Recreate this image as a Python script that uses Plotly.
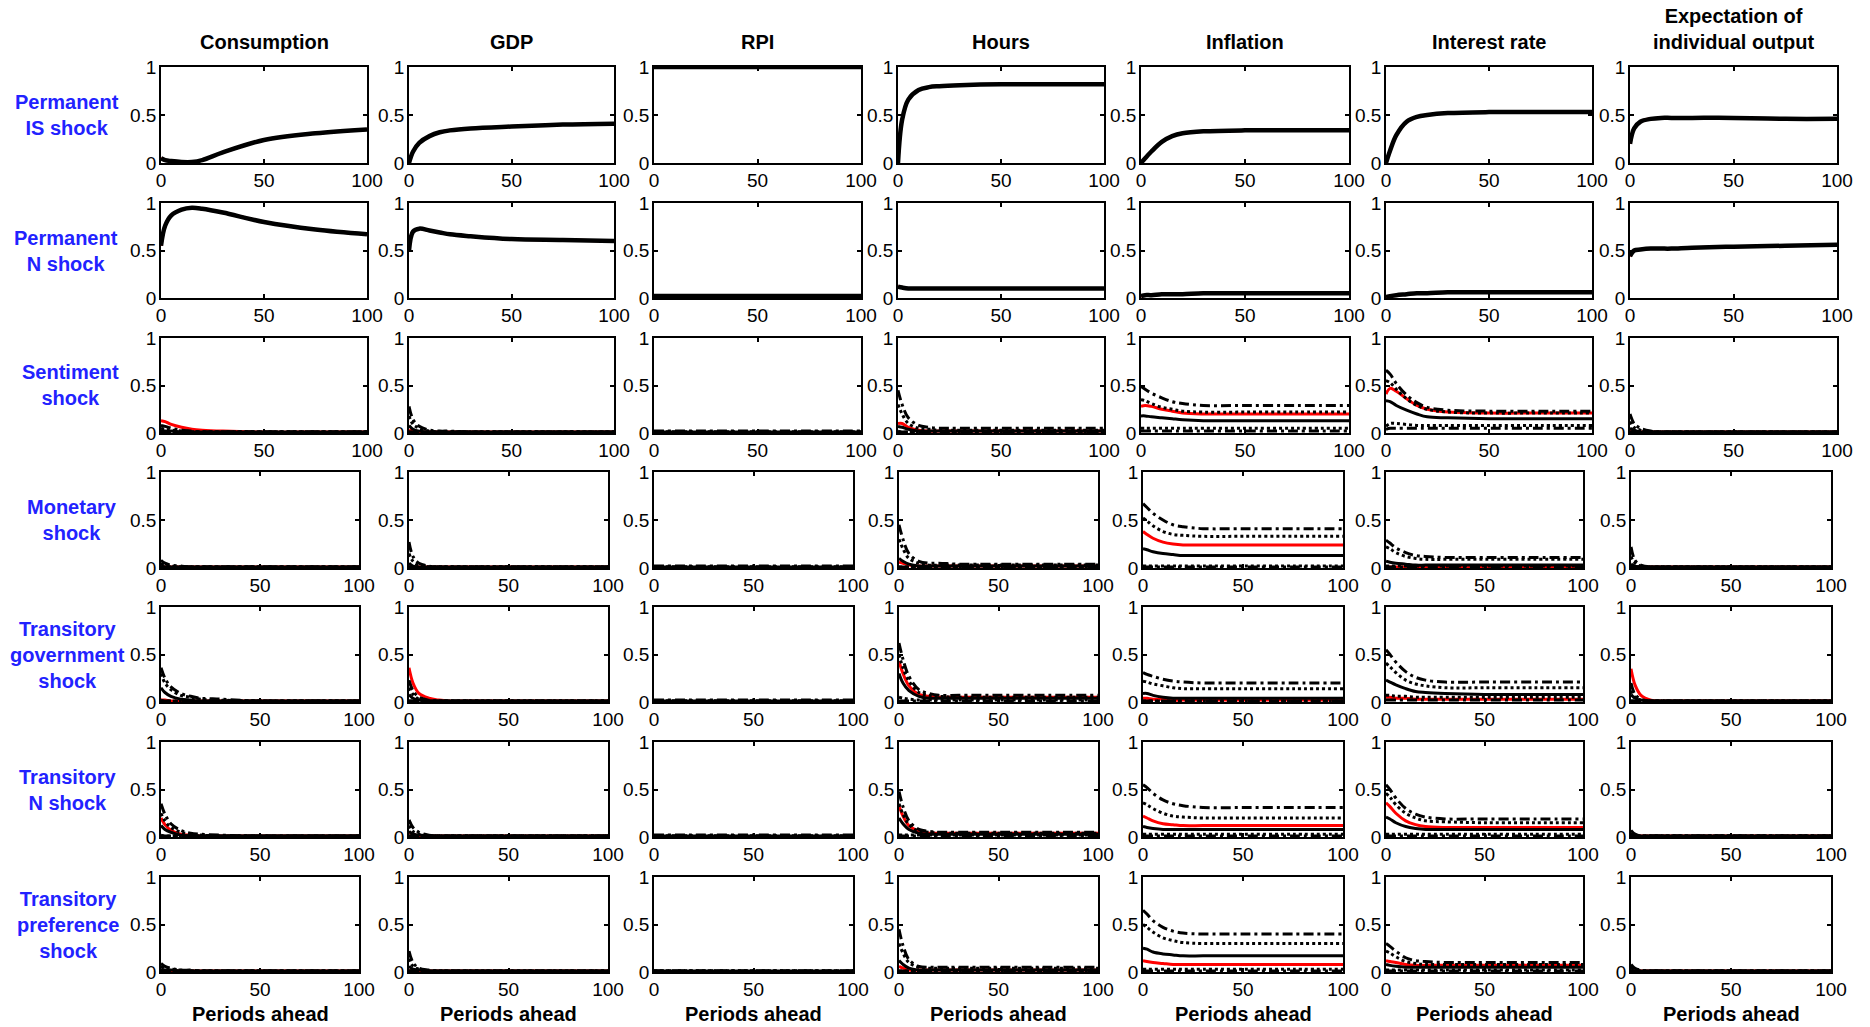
import plotly.graph_objects as go

# ---------------- data ----------------
H = [0, 2, 5, 10, 15, 20, 30, 50, 75, 100]          # periods ahead
VARIABLES = ["Consumption", "GDP", "RPI", "Hours", "Inflation", "Interest rate",
             "Expectation of<br>individual output"]
SHOCKS = ["Permanent<br>IS shock", "Permanent<br>N shock", "Sentiment<br>shock",
          "Monetary<br>shock", "Transitory<br>government<br>shock",
          "Transitory<br>N shock", "Transitory<br>preference<br>shock"]
X_TICKS = [0, 50, 100]
Y_TICKS = [0, 0.5, 1]

# Row 1: permanent IS shock (posterior bands collapse on the median)
PIS_med = [
    [0.05, 0.03, 0.02, 0.01, 0.01, 0.03, 0.11, 0.24, 0.31, 0.35],
    [0.00, 0.12, 0.21, 0.28, 0.32, 0.34, 0.36, 0.38, 0.40, 0.41],
    [1.00, 1.00, 1.00, 1.00, 1.00, 1.00, 1.00, 1.00, 1.00, 1.00],
    [0.00, 0.45, 0.66, 0.76, 0.79, 0.80, 0.81, 0.82, 0.82, 0.82],
    [0.00, 0.05, 0.12, 0.22, 0.28, 0.31, 0.33, 0.34, 0.34, 0.34],
    [0.00, 0.13, 0.29, 0.43, 0.48, 0.50, 0.52, 0.53, 0.53, 0.53],
    [0.20, 0.36, 0.43, 0.46, 0.47, 0.47, 0.47, 0.47, 0.46, 0.46],
]
PIS_black = PIS_med

# Row 2: permanent N shock
PN_med = [
    [0.55, 0.76, 0.87, 0.93, 0.95, 0.94, 0.90, 0.80, 0.72, 0.67],
    [0.50, 0.70, 0.73, 0.71, 0.69, 0.67, 0.65, 0.62, 0.61, 0.60],
    [0.005, 0.005, 0.005, 0.005, 0.005, 0.005, 0.005, 0.005, 0.005, 0.005],
    [0.12, 0.11, 0.10, 0.10, 0.10, 0.10, 0.10, 0.10, 0.10, 0.10],
    [0.02, 0.03, 0.03, 0.04, 0.04, 0.04, 0.05, 0.05, 0.05, 0.05],
    [0.01, 0.02, 0.03, 0.04, 0.05, 0.05, 0.06, 0.06, 0.06, 0.06],
    [0.44, 0.50, 0.51, 0.52, 0.52, 0.52, 0.53, 0.54, 0.55, 0.56],
]
PN_black = [
    [0.55, 0.76, 0.87, 0.93, 0.95, 0.94, 0.90, 0.80, 0.72, 0.67],
    [0.50, 0.70, 0.73, 0.71, 0.69, 0.67, 0.65, 0.62, 0.61, 0.60],
    [0.02, 0.02, 0.02, 0.02, 0.02, 0.02, 0.02, 0.02, 0.02, 0.02],
    [0.12, 0.11, 0.10, 0.10, 0.10, 0.10, 0.10, 0.10, 0.10, 0.10],
    [0.02, 0.03, 0.03, 0.04, 0.04, 0.04, 0.05, 0.05, 0.05, 0.05],
    [0.01, 0.02, 0.03, 0.04, 0.05, 0.05, 0.06, 0.06, 0.06, 0.06],
    [0.44, 0.50, 0.51, 0.52, 0.52, 0.52, 0.53, 0.54, 0.55, 0.56],
]

# Row 3: sentiment shock
SENT_u2 = [
    [0.08, 0.07, 0.05, 0.03, 0.02, 0.01, 0.01, 0.01, 0.01, 0.01],
    [0.28, 0.14, 0.07, 0.03, 0.02, 0.02, 0.01, 0.01, 0.01, 0.01],
    [0.02, 0.02, 0.02, 0.02, 0.02, 0.02, 0.02, 0.02, 0.02, 0.02],
    [0.45, 0.30, 0.16, 0.08, 0.06, 0.05, 0.05, 0.05, 0.05, 0.05],
    [0.49, 0.46, 0.42, 0.37, 0.33, 0.31, 0.29, 0.29, 0.29, 0.29],
    [0.66, 0.62, 0.52, 0.40, 0.32, 0.27, 0.24, 0.23, 0.23, 0.23],
    [0.20, 0.10, 0.05, 0.02, 0.01, 0.01, 0.01, 0.01, 0.01, 0.01],
]
SENT_u1 = [
    [0.05, 0.04, 0.03, 0.02, 0.01, 0.01, 0.01, 0.01, 0.01, 0.01],
    [0.18, 0.09, 0.05, 0.02, 0.01, 0.01, 0.01, 0.01, 0.01, 0.01],
    [0.01, 0.01, 0.01, 0.01, 0.01, 0.01, 0.01, 0.01, 0.01, 0.01],
    [0.30, 0.20, 0.10, 0.05, 0.04, 0.03, 0.03, 0.03, 0.03, 0.03],
    [0.35, 0.34, 0.31, 0.27, 0.25, 0.23, 0.22, 0.22, 0.22, 0.22],
    [0.55, 0.53, 0.46, 0.36, 0.29, 0.25, 0.22, 0.21, 0.21, 0.21],
    [0.12, 0.06, 0.03, 0.01, 0.01, 0.01, 0.01, 0.01, 0.01, 0.01],
]
SENT_med = [
    [0.13, 0.12, 0.09, 0.06, 0.04, 0.03, 0.02, 0.01, 0.01, 0.01],
    [0.03, 0.02, 0.01, 0.01, 0.01, 0.01, 0.01, 0.01, 0.01, 0.01],
    [0.005, 0.005, 0.005, 0.005, 0.005, 0.005, 0.005, 0.005, 0.005, 0.005],
    [0.10, 0.10, 0.06, 0.03, 0.02, 0.02, 0.02, 0.02, 0.02, 0.02],
    [0.28, 0.29, 0.28, 0.25, 0.23, 0.21, 0.20, 0.20, 0.20, 0.20],
    [0.41, 0.47, 0.44, 0.36, 0.29, 0.25, 0.22, 0.21, 0.21, 0.21],
    [0.02, 0.01, 0.01, 0.01, 0.01, 0.01, 0.01, 0.01, 0.01, 0.01],
]
SENT_solid = [
    [0.03, 0.02, 0.02, 0.01, 0.01, 0.01, 0.01, 0.01, 0.01, 0.01],
    [0.08, 0.04, 0.02, 0.01, 0.01, 0.01, 0.01, 0.01, 0.01, 0.01],
    [0.01, 0.01, 0.01, 0.01, 0.01, 0.01, 0.01, 0.01, 0.01, 0.01],
    [0.07, 0.06, 0.04, 0.02, 0.02, 0.02, 0.02, 0.02, 0.02, 0.02],
    [0.18, 0.18, 0.17, 0.16, 0.15, 0.14, 0.13, 0.13, 0.13, 0.13],
    [0.34, 0.33, 0.29, 0.24, 0.20, 0.17, 0.16, 0.15, 0.15, 0.15],
    [0.05, 0.03, 0.01, 0.01, 0.01, 0.01, 0.01, 0.01, 0.01, 0.01],
]
SENT_l1 = [
    [0.01, 0.01, 0.01, 0.01, 0.01, 0.01, 0.01, 0.01, 0.01, 0.01],
    [0.01, 0.01, 0.01, 0.01, 0.01, 0.01, 0.01, 0.01, 0.01, 0.01],
    [0.01, 0.01, 0.01, 0.01, 0.01, 0.01, 0.01, 0.01, 0.01, 0.01],
    [0.02, 0.01, 0.01, 0.01, 0.01, 0.01, 0.01, 0.01, 0.01, 0.01],
    [0.05, 0.05, 0.05, 0.05, 0.05, 0.05, 0.05, 0.05, 0.05, 0.05],
    [0.07, 0.10, 0.10, 0.09, 0.08, 0.08, 0.08, 0.08, 0.08, 0.08],
    [0.01, 0.01, 0.01, 0.01, 0.01, 0.01, 0.01, 0.01, 0.01, 0.01],
]
SENT_l2 = [
    [0.01, 0.01, 0.01, 0.01, 0.01, 0.01, 0.01, 0.01, 0.01, 0.01],
    [0.01, 0.01, 0.01, 0.01, 0.01, 0.01, 0.01, 0.01, 0.01, 0.01],
    [0.01, 0.01, 0.01, 0.01, 0.01, 0.01, 0.01, 0.01, 0.01, 0.01],
    [0.01, 0.01, 0.01, 0.01, 0.01, 0.01, 0.01, 0.01, 0.01, 0.01],
    [0.02, 0.02, 0.02, 0.02, 0.02, 0.02, 0.02, 0.02, 0.02, 0.02],
    [0.04, 0.05, 0.05, 0.05, 0.05, 0.05, 0.05, 0.05, 0.05, 0.05],
    [0.01, 0.01, 0.01, 0.01, 0.01, 0.01, 0.01, 0.01, 0.01, 0.01],
]

# Row 4: monetary shock
MON_u2 = [
    [0.08, 0.05, 0.03, 0.02, 0.01, 0.01, 0.01, 0.01, 0.01, 0.01],
    [0.27, 0.12, 0.05, 0.02, 0.01, 0.01, 0.01, 0.01, 0.01, 0.01],
    [0.02, 0.02, 0.02, 0.02, 0.02, 0.02, 0.02, 0.02, 0.02, 0.02],
    [0.45, 0.30, 0.15, 0.07, 0.05, 0.05, 0.04, 0.04, 0.04, 0.04],
    [0.67, 0.63, 0.57, 0.50, 0.45, 0.43, 0.41, 0.41, 0.41, 0.41],
    [0.29, 0.26, 0.21, 0.16, 0.13, 0.12, 0.11, 0.11, 0.11, 0.11],
    [0.22, 0.08, 0.03, 0.01, 0.01, 0.01, 0.01, 0.01, 0.01, 0.01],
]
MON_u1 = [
    [0.05, 0.03, 0.02, 0.01, 0.01, 0.01, 0.01, 0.01, 0.01, 0.01],
    [0.15, 0.07, 0.03, 0.01, 0.01, 0.01, 0.01, 0.01, 0.01, 0.01],
    [0.01, 0.01, 0.01, 0.01, 0.01, 0.01, 0.01, 0.01, 0.01, 0.01],
    [0.30, 0.20, 0.10, 0.05, 0.03, 0.03, 0.03, 0.03, 0.03, 0.03],
    [0.52, 0.49, 0.44, 0.38, 0.35, 0.34, 0.33, 0.33, 0.33, 0.33],
    [0.22, 0.20, 0.16, 0.12, 0.10, 0.09, 0.09, 0.09, 0.09, 0.09],
    [0.12, 0.05, 0.02, 0.01, 0.01, 0.01, 0.01, 0.01, 0.01, 0.01],
]
MON_med = [
    [0.01, 0.01, 0.01, 0.01, 0.01, 0.01, 0.01, 0.01, 0.01, 0.01],
    [0.01, 0.01, 0.01, 0.01, 0.01, 0.01, 0.01, 0.01, 0.01, 0.01],
    [0.005, 0.005, 0.005, 0.005, 0.005, 0.005, 0.005, 0.005, 0.005, 0.005],
    [0.06, 0.05, 0.03, 0.02, 0.02, 0.02, 0.02, 0.02, 0.02, 0.02],
    [0.38, 0.35, 0.31, 0.27, 0.25, 0.24, 0.24, 0.24, 0.24, 0.24],
    [0.01, 0.01, 0.01, 0.01, 0.01, 0.01, 0.01, 0.01, 0.01, 0.01],
    [0.01, 0.01, 0.01, 0.01, 0.01, 0.01, 0.01, 0.01, 0.01, 0.01],
]
MON_solid = [
    [0.02, 0.01, 0.01, 0.01, 0.01, 0.01, 0.01, 0.01, 0.01, 0.01],
    [0.05, 0.02, 0.01, 0.01, 0.01, 0.01, 0.01, 0.01, 0.01, 0.01],
    [0.01, 0.01, 0.01, 0.01, 0.01, 0.01, 0.01, 0.01, 0.01, 0.01],
    [0.10, 0.07, 0.04, 0.02, 0.02, 0.02, 0.02, 0.02, 0.02, 0.02],
    [0.20, 0.19, 0.17, 0.15, 0.14, 0.13, 0.13, 0.13, 0.13, 0.13],
    [0.07, 0.06, 0.05, 0.04, 0.03, 0.03, 0.03, 0.03, 0.03, 0.03],
    [0.04, 0.02, 0.01, 0.01, 0.01, 0.01, 0.01, 0.01, 0.01, 0.01],
]
MON_l1 = [
    [0.01, 0.01, 0.01, 0.01, 0.01, 0.01, 0.01, 0.01, 0.01, 0.01],
    [0.01, 0.01, 0.01, 0.01, 0.01, 0.01, 0.01, 0.01, 0.01, 0.01],
    [0.01, 0.01, 0.01, 0.01, 0.01, 0.01, 0.01, 0.01, 0.01, 0.01],
    [0.01, 0.01, 0.01, 0.01, 0.01, 0.01, 0.01, 0.01, 0.01, 0.01],
    [0.02, 0.02, 0.02, 0.02, 0.02, 0.02, 0.02, 0.02, 0.02, 0.02],
    [0.02, 0.02, 0.02, 0.02, 0.02, 0.02, 0.02, 0.02, 0.02, 0.02],
    [0.01, 0.01, 0.01, 0.01, 0.01, 0.01, 0.01, 0.01, 0.01, 0.01],
]
MON_l2 = [
    [0.01, 0.01, 0.01, 0.01, 0.01, 0.01, 0.01, 0.01, 0.01, 0.01],
    [0.01, 0.01, 0.01, 0.01, 0.01, 0.01, 0.01, 0.01, 0.01, 0.01],
    [0.01, 0.01, 0.01, 0.01, 0.01, 0.01, 0.01, 0.01, 0.01, 0.01],
    [0.01, 0.01, 0.01, 0.01, 0.01, 0.01, 0.01, 0.01, 0.01, 0.01],
    [0.01, 0.01, 0.01, 0.01, 0.01, 0.01, 0.01, 0.01, 0.01, 0.01],
    [0.01, 0.01, 0.01, 0.01, 0.01, 0.01, 0.01, 0.01, 0.01, 0.01],
    [0.01, 0.01, 0.01, 0.01, 0.01, 0.01, 0.01, 0.01, 0.01, 0.01],
]

# Row 5: transitory government shock
TG_u2 = [
    [0.36, 0.25, 0.16, 0.09, 0.06, 0.04, 0.03, 0.01, 0.01, 0.01],
    [0.23, 0.12, 0.05, 0.02, 0.01, 0.01, 0.01, 0.01, 0.01, 0.01],
    [0.02, 0.02, 0.02, 0.02, 0.02, 0.02, 0.02, 0.02, 0.02, 0.02],
    [0.62, 0.45, 0.27, 0.13, 0.09, 0.07, 0.07, 0.07, 0.07, 0.07],
    [0.31, 0.29, 0.27, 0.24, 0.22, 0.21, 0.20, 0.20, 0.20, 0.20],
    [0.55, 0.50, 0.42, 0.32, 0.26, 0.23, 0.21, 0.21, 0.21, 0.21],
    [0.20, 0.08, 0.03, 0.01, 0.01, 0.01, 0.01, 0.01, 0.01, 0.01],
]
TG_u1 = [
    [0.30, 0.20, 0.13, 0.07, 0.05, 0.03, 0.02, 0.01, 0.01, 0.01],
    [0.15, 0.08, 0.03, 0.01, 0.01, 0.01, 0.01, 0.01, 0.01, 0.01],
    [0.01, 0.01, 0.01, 0.01, 0.01, 0.01, 0.01, 0.01, 0.01, 0.01],
    [0.50, 0.36, 0.22, 0.10, 0.07, 0.06, 0.05, 0.05, 0.05, 0.05],
    [0.22, 0.21, 0.19, 0.17, 0.15, 0.14, 0.14, 0.14, 0.14, 0.14],
    [0.41, 0.37, 0.31, 0.23, 0.19, 0.17, 0.15, 0.15, 0.15, 0.15],
    [0.12, 0.05, 0.02, 0.01, 0.01, 0.01, 0.01, 0.01, 0.01, 0.01],
]
TG_med = [
    [0.02, 0.02, 0.01, 0.01, 0.01, 0.01, 0.01, 0.01, 0.01, 0.01],
    [0.36, 0.20, 0.09, 0.04, 0.02, 0.01, 0.01, 0.01, 0.01, 0.01],
    [0.005, 0.005, 0.005, 0.005, 0.005, 0.005, 0.005, 0.005, 0.005, 0.005],
    [0.43, 0.30, 0.17, 0.08, 0.06, 0.05, 0.05, 0.05, 0.05, 0.05],
    [0.04, 0.04, 0.03, 0.03, 0.02, 0.02, 0.02, 0.02, 0.02, 0.02],
    [0.05, 0.05, 0.04, 0.04, 0.03, 0.03, 0.03, 0.03, 0.03, 0.03],
    [0.35, 0.18, 0.07, 0.02, 0.01, 0.01, 0.01, 0.01, 0.01, 0.01],
]
TG_solid = [
    [0.15, 0.10, 0.06, 0.03, 0.02, 0.01, 0.01, 0.01, 0.01, 0.01],
    [0.08, 0.04, 0.02, 0.01, 0.01, 0.01, 0.01, 0.01, 0.01, 0.01],
    [0.01, 0.01, 0.01, 0.01, 0.01, 0.01, 0.01, 0.01, 0.01, 0.01],
    [0.30, 0.20, 0.12, 0.06, 0.04, 0.04, 0.04, 0.04, 0.04, 0.04],
    [0.09, 0.09, 0.07, 0.05, 0.04, 0.04, 0.04, 0.04, 0.04, 0.04],
    [0.23, 0.21, 0.18, 0.14, 0.11, 0.10, 0.09, 0.08, 0.08, 0.08],
    [0.08, 0.04, 0.02, 0.01, 0.01, 0.01, 0.01, 0.01, 0.01, 0.01],
]
TG_l1 = [
    [0.02, 0.01, 0.01, 0.01, 0.01, 0.01, 0.01, 0.01, 0.01, 0.01],
    [0.01, 0.01, 0.01, 0.01, 0.01, 0.01, 0.01, 0.01, 0.01, 0.01],
    [0.01, 0.01, 0.01, 0.01, 0.01, 0.01, 0.01, 0.01, 0.01, 0.01],
    [0.05, 0.04, 0.03, 0.02, 0.02, 0.02, 0.02, 0.02, 0.02, 0.02],
    [0.01, 0.01, 0.01, 0.01, 0.01, 0.01, 0.01, 0.01, 0.01, 0.01],
    [0.07, 0.07, 0.06, 0.06, 0.05, 0.05, 0.05, 0.05, 0.05, 0.05],
    [0.01, 0.01, 0.01, 0.01, 0.01, 0.01, 0.01, 0.01, 0.01, 0.01],
]
TG_l2 = [
    [0.01, 0.01, 0.01, 0.01, 0.01, 0.01, 0.01, 0.01, 0.01, 0.01],
    [0.01, 0.01, 0.01, 0.01, 0.01, 0.01, 0.01, 0.01, 0.01, 0.01],
    [0.01, 0.01, 0.01, 0.01, 0.01, 0.01, 0.01, 0.01, 0.01, 0.01],
    [0.01, 0.01, 0.01, 0.01, 0.01, 0.01, 0.01, 0.01, 0.01, 0.01],
    [0.01, 0.01, 0.01, 0.01, 0.01, 0.01, 0.01, 0.01, 0.01, 0.01],
    [0.02, 0.02, 0.02, 0.02, 0.02, 0.02, 0.02, 0.02, 0.02, 0.02],
    [0.01, 0.01, 0.01, 0.01, 0.01, 0.01, 0.01, 0.01, 0.01, 0.01],
]

# Row 6: transitory N shock
TN_u2 = [
    [0.35, 0.24, 0.14, 0.07, 0.04, 0.03, 0.02, 0.01, 0.01, 0.01],
    [0.18, 0.10, 0.05, 0.02, 0.01, 0.01, 0.01, 0.01, 0.01, 0.01],
    [0.02, 0.02, 0.02, 0.02, 0.02, 0.02, 0.02, 0.02, 0.02, 0.02],
    [0.48, 0.32, 0.17, 0.08, 0.06, 0.05, 0.05, 0.05, 0.05, 0.05],
    [0.55, 0.52, 0.46, 0.39, 0.35, 0.33, 0.31, 0.31, 0.31, 0.31],
    [0.55, 0.50, 0.41, 0.30, 0.24, 0.21, 0.19, 0.19, 0.19, 0.19],
    [0.07, 0.03, 0.01, 0.01, 0.01, 0.01, 0.01, 0.01, 0.01, 0.01],
]
TN_u1 = [
    [0.25, 0.17, 0.10, 0.05, 0.03, 0.02, 0.01, 0.01, 0.01, 0.01],
    [0.12, 0.06, 0.03, 0.01, 0.01, 0.01, 0.01, 0.01, 0.01, 0.01],
    [0.01, 0.01, 0.01, 0.01, 0.01, 0.01, 0.01, 0.01, 0.01, 0.01],
    [0.35, 0.24, 0.13, 0.06, 0.05, 0.04, 0.04, 0.04, 0.04, 0.04],
    [0.36, 0.34, 0.30, 0.25, 0.22, 0.21, 0.20, 0.20, 0.20, 0.20],
    [0.46, 0.42, 0.34, 0.25, 0.20, 0.17, 0.16, 0.15, 0.15, 0.15],
    [0.04, 0.02, 0.01, 0.01, 0.01, 0.01, 0.01, 0.01, 0.01, 0.01],
]
TN_med = [
    [0.20, 0.13, 0.07, 0.03, 0.02, 0.01, 0.01, 0.01, 0.01, 0.01],
    [0.05, 0.03, 0.01, 0.01, 0.01, 0.01, 0.01, 0.01, 0.01, 0.01],
    [0.005, 0.005, 0.005, 0.005, 0.005, 0.005, 0.005, 0.005, 0.005, 0.005],
    [0.33, 0.22, 0.12, 0.06, 0.04, 0.04, 0.04, 0.04, 0.04, 0.04],
    [0.22, 0.20, 0.17, 0.14, 0.13, 0.12, 0.12, 0.12, 0.12, 0.12],
    [0.36, 0.32, 0.25, 0.17, 0.13, 0.11, 0.10, 0.10, 0.10, 0.10],
    [0.01, 0.01, 0.01, 0.01, 0.01, 0.01, 0.01, 0.01, 0.01, 0.01],
]
TN_solid = [
    [0.12, 0.08, 0.05, 0.02, 0.01, 0.01, 0.01, 0.01, 0.01, 0.01],
    [0.06, 0.03, 0.02, 0.01, 0.01, 0.01, 0.01, 0.01, 0.01, 0.01],
    [0.01, 0.01, 0.01, 0.01, 0.01, 0.01, 0.01, 0.01, 0.01, 0.01],
    [0.20, 0.14, 0.08, 0.04, 0.03, 0.03, 0.03, 0.03, 0.03, 0.03],
    [0.11, 0.10, 0.09, 0.08, 0.08, 0.08, 0.08, 0.08, 0.08, 0.08],
    [0.21, 0.19, 0.15, 0.11, 0.09, 0.08, 0.08, 0.08, 0.08, 0.08],
    [0.02, 0.01, 0.01, 0.01, 0.01, 0.01, 0.01, 0.01, 0.01, 0.01],
]
TN_l1 = [
    [0.02, 0.01, 0.01, 0.01, 0.01, 0.01, 0.01, 0.01, 0.01, 0.01],
    [0.01, 0.01, 0.01, 0.01, 0.01, 0.01, 0.01, 0.01, 0.01, 0.01],
    [0.01, 0.01, 0.01, 0.01, 0.01, 0.01, 0.01, 0.01, 0.01, 0.01],
    [0.02, 0.02, 0.02, 0.02, 0.02, 0.02, 0.02, 0.02, 0.02, 0.02],
    [0.03, 0.03, 0.03, 0.03, 0.03, 0.03, 0.03, 0.03, 0.03, 0.03],
    [0.03, 0.03, 0.03, 0.03, 0.03, 0.03, 0.03, 0.03, 0.03, 0.03],
    [0.01, 0.01, 0.01, 0.01, 0.01, 0.01, 0.01, 0.01, 0.01, 0.01],
]
TN_l2 = [
    [0.01, 0.01, 0.01, 0.01, 0.01, 0.01, 0.01, 0.01, 0.01, 0.01],
    [0.01, 0.01, 0.01, 0.01, 0.01, 0.01, 0.01, 0.01, 0.01, 0.01],
    [0.01, 0.01, 0.01, 0.01, 0.01, 0.01, 0.01, 0.01, 0.01, 0.01],
    [0.01, 0.01, 0.01, 0.01, 0.01, 0.01, 0.01, 0.01, 0.01, 0.01],
    [0.01, 0.01, 0.01, 0.01, 0.01, 0.01, 0.01, 0.01, 0.01, 0.01],
    [0.01, 0.01, 0.01, 0.01, 0.01, 0.01, 0.01, 0.01, 0.01, 0.01],
    [0.01, 0.01, 0.01, 0.01, 0.01, 0.01, 0.01, 0.01, 0.01, 0.01],
]

# Row 7: transitory preference shock
TP_u2 = [
    [0.09, 0.06, 0.04, 0.02, 0.02, 0.01, 0.01, 0.01, 0.01, 0.01],
    [0.22, 0.10, 0.04, 0.02, 0.01, 0.01, 0.01, 0.01, 0.01, 0.01],
    [0.01, 0.01, 0.01, 0.01, 0.01, 0.01, 0.01, 0.01, 0.01, 0.01],
    [0.45, 0.28, 0.13, 0.06, 0.05, 0.05, 0.05, 0.05, 0.05, 0.05],
    [0.65, 0.61, 0.54, 0.47, 0.43, 0.41, 0.40, 0.40, 0.40, 0.40],
    [0.30, 0.27, 0.22, 0.15, 0.12, 0.11, 0.10, 0.10, 0.10, 0.10],
    [0.08, 0.04, 0.02, 0.01, 0.01, 0.01, 0.01, 0.01, 0.01, 0.01],
]
TP_u1 = [
    [0.06, 0.04, 0.03, 0.02, 0.01, 0.01, 0.01, 0.01, 0.01, 0.01],
    [0.14, 0.06, 0.03, 0.01, 0.01, 0.01, 0.01, 0.01, 0.01, 0.01],
    [0.01, 0.01, 0.01, 0.01, 0.01, 0.01, 0.01, 0.01, 0.01, 0.01],
    [0.30, 0.20, 0.10, 0.05, 0.04, 0.04, 0.04, 0.04, 0.04, 0.04],
    [0.50, 0.47, 0.42, 0.36, 0.33, 0.31, 0.30, 0.30, 0.30, 0.30],
    [0.22, 0.20, 0.16, 0.11, 0.09, 0.08, 0.08, 0.08, 0.08, 0.08],
    [0.05, 0.03, 0.01, 0.01, 0.01, 0.01, 0.01, 0.01, 0.01, 0.01],
]
TP_med = [
    [0.01, 0.01, 0.01, 0.01, 0.01, 0.01, 0.01, 0.01, 0.01, 0.01],
    [0.02, 0.01, 0.01, 0.01, 0.01, 0.01, 0.01, 0.01, 0.01, 0.01],
    [0.005, 0.005, 0.005, 0.005, 0.005, 0.005, 0.005, 0.005, 0.005, 0.005],
    [0.06, 0.04, 0.02, 0.02, 0.02, 0.02, 0.02, 0.02, 0.02, 0.02],
    [0.12, 0.11, 0.10, 0.09, 0.08, 0.08, 0.08, 0.08, 0.08, 0.08],
    [0.12, 0.11, 0.10, 0.08, 0.07, 0.07, 0.07, 0.07, 0.07, 0.07],
    [0.01, 0.01, 0.01, 0.01, 0.01, 0.01, 0.01, 0.01, 0.01, 0.01],
]
TP_solid = [
    [0.03, 0.02, 0.02, 0.01, 0.01, 0.01, 0.01, 0.01, 0.01, 0.01],
    [0.06, 0.03, 0.02, 0.01, 0.01, 0.01, 0.01, 0.01, 0.01, 0.01],
    [0.01, 0.01, 0.01, 0.01, 0.01, 0.01, 0.01, 0.01, 0.01, 0.01],
    [0.12, 0.08, 0.04, 0.02, 0.02, 0.02, 0.02, 0.02, 0.02, 0.02],
    [0.25, 0.24, 0.21, 0.19, 0.18, 0.17, 0.17, 0.17, 0.17, 0.17],
    [0.08, 0.07, 0.06, 0.05, 0.05, 0.05, 0.05, 0.05, 0.05, 0.05],
    [0.02, 0.01, 0.01, 0.01, 0.01, 0.01, 0.01, 0.01, 0.01, 0.01],
]
TP_l1 = [
    [0.01, 0.01, 0.01, 0.01, 0.01, 0.01, 0.01, 0.01, 0.01, 0.01],
    [0.01, 0.01, 0.01, 0.01, 0.01, 0.01, 0.01, 0.01, 0.01, 0.01],
    [0.01, 0.01, 0.01, 0.01, 0.01, 0.01, 0.01, 0.01, 0.01, 0.01],
    [0.01, 0.01, 0.01, 0.01, 0.01, 0.01, 0.01, 0.01, 0.01, 0.01],
    [0.03, 0.03, 0.03, 0.03, 0.03, 0.03, 0.03, 0.03, 0.03, 0.03],
    [0.02, 0.02, 0.02, 0.02, 0.02, 0.02, 0.02, 0.02, 0.02, 0.02],
    [0.01, 0.01, 0.01, 0.01, 0.01, 0.01, 0.01, 0.01, 0.01, 0.01],
]
TP_l2 = [
    [0.01, 0.01, 0.01, 0.01, 0.01, 0.01, 0.01, 0.01, 0.01, 0.01],
    [0.01, 0.01, 0.01, 0.01, 0.01, 0.01, 0.01, 0.01, 0.01, 0.01],
    [0.01, 0.01, 0.01, 0.01, 0.01, 0.01, 0.01, 0.01, 0.01, 0.01],
    [0.01, 0.01, 0.01, 0.01, 0.01, 0.01, 0.01, 0.01, 0.01, 0.01],
    [0.01, 0.01, 0.01, 0.01, 0.01, 0.01, 0.01, 0.01, 0.01, 0.01],
    [0.01, 0.01, 0.01, 0.01, 0.01, 0.01, 0.01, 0.01, 0.01, 0.01],
    [0.01, 0.01, 0.01, 0.01, 0.01, 0.01, 0.01, 0.01, 0.01, 0.01],
]

# table built from the named arrays: (median, [lower dash-dot, lower dot, solid, upper dot, upper dash-dot], collapsed band)
ROWS = [
    (PIS_med, None, PIS_black),
    (PN_med, None, PN_black),
    (SENT_med, [SENT_l2, SENT_l1, SENT_solid, SENT_u1, SENT_u2], None),
    (MON_med, [MON_l2, MON_l1, MON_solid, MON_u1, MON_u2], None),
    (TG_med, [TG_l2, TG_l1, TG_solid, TG_u1, TG_u2], None),
    (TN_med, [TN_l2, TN_l1, TN_solid, TN_u1, TN_u2], None),
    (TP_med, [TP_l2, TP_l1, TP_solid, TP_u1, TP_u2], None),
]

# ---------------- layout geometry (pixels) ----------------
W, HGT = 1870, 1027
COLS_WIDE = [(161, 367), (409, 614), (654, 861), (898, 1104), (1141, 1349), (1386, 1592), (1630, 1837)]
COLS_NARROW = [(161, 359), (409, 608), (654, 853), (899, 1098), (1143, 1343), (1386, 1583), (1631, 1831)]
ROWS_Y = [(67, 163), (203, 298), (338, 433), (472, 568), (607, 702), (742, 837), (877, 972)]
ROW_LABEL_X = [67, 66, 70, 72, 67, 68, 68]

FONT = "Liberation Sans, Arial, Helvetica, sans-serif"
BAND_STYLES = ["10px,4px,3px,4px", "3px,3px", "solid", "3px,3px", "10px,4px,3px,4px"]

fig = go.Figure()
layout = {}

for r in range(7):
    med, bands, black = ROWS[r]
    cols = COLS_WIDE if r < 3 else COLS_NARROW
    y0, y1 = ROWS_Y[r]
    for c in range(7):
        k = r * 7 + c + 1
        xa = "x" if k == 1 else f"x{k}"
        ya = "y" if k == 1 else f"y{k}"
        x0, x1 = cols[c]
        common = dict(showline=True, linecolor="black", linewidth=1.5, mirror="ticks",
                      ticks="inside", ticklen=4, tickwidth=1.5, tickcolor="black",
                      showgrid=False, zeroline=False, automargin=False,
                      tickfont=dict(family=FONT, size=19, color="black"))
        layout["xaxis" if k == 1 else f"xaxis{k}"] = dict(
            common, domain=[x0 / W, x1 / W], range=[0, 100], tickvals=X_TICKS,
            ticktext=[str(v) for v in X_TICKS], anchor=ya, ticklabelstandoff=-1)
        layout["yaxis" if k == 1 else f"yaxis{k}"] = dict(
            common, domain=[1 - y1 / HGT, 1 - y0 / HGT], range=[0, 1], tickvals=Y_TICKS,
            ticktext=["0", "0.5", "1"], anchor=xa, ticklabelstandoff=-1)

        fig.add_trace(go.Scatter(x=H, y=med[c], mode="lines", xaxis=xa, yaxis=ya,
                                 line=dict(color="#ff0000", width=3, shape="spline"),
                                 showlegend=False, hoverinfo="skip"))
        if bands is None:
            fig.add_trace(go.Scatter(x=H, y=black[c], mode="lines", xaxis=xa, yaxis=ya,
                                     line=dict(color="black", width=4.5, shape="spline"),
                                     showlegend=False, hoverinfo="skip"))
        else:
            for b, dash in zip(bands, BAND_STYLES):
                fig.add_trace(go.Scatter(x=H, y=b[c], mode="lines", xaxis=xa, yaxis=ya,
                                         line=dict(color="black", width=3, dash=dash,
                                                   shape="spline"),
                                         showlegend=False, hoverinfo="skip"))

annotations = []
# column titles
for c, name in enumerate(VARIABLES):
    x0, x1 = COLS_WIDE[c]
    annotations.append(dict(text=f"<b>{name.replace('<br>', '</b><br><b>')}</b>",
                            x=(x0 + x1) / 2 / W, y=1 - 55 / HGT,
                            xref="paper", yref="paper", xanchor="center", yanchor="bottom",
                            showarrow=False, font=dict(family=FONT, size=20, color="black")))
# x-axis titles
for c in range(7):
    x0, x1 = COLS_NARROW[c]
    annotations.append(dict(text="<b>Periods ahead</b>", x=(x0 + x1) / 2 / W, y=1 - 1014 / HGT,
                            xref="paper", yref="paper", xanchor="center", yanchor="middle",
                            showarrow=False, font=dict(family=FONT, size=20, color="black")))
# row labels
for r, name in enumerate(SHOCKS):
    y0, y1 = ROWS_Y[r]
    annotations.append(dict(text=f"<b>{name.replace('<br>', '</b><br><b>')}</b>",
                            x=ROW_LABEL_X[r] / W, y=1 - (y0 + y1) / 2 / HGT,
                            xref="paper", yref="paper", xanchor="center", yanchor="middle",
                            showarrow=False, align="center",
                            font=dict(family=FONT, size=20, color="#2222ff")))

fig.update_layout(width=W, height=HGT,
                  margin=dict(l=0, r=0, t=0, b=0, pad=0, autoexpand=False),
                  paper_bgcolor="white", plot_bgcolor="white",
                  annotations=annotations, **layout)

fig.write_html("out.html")
